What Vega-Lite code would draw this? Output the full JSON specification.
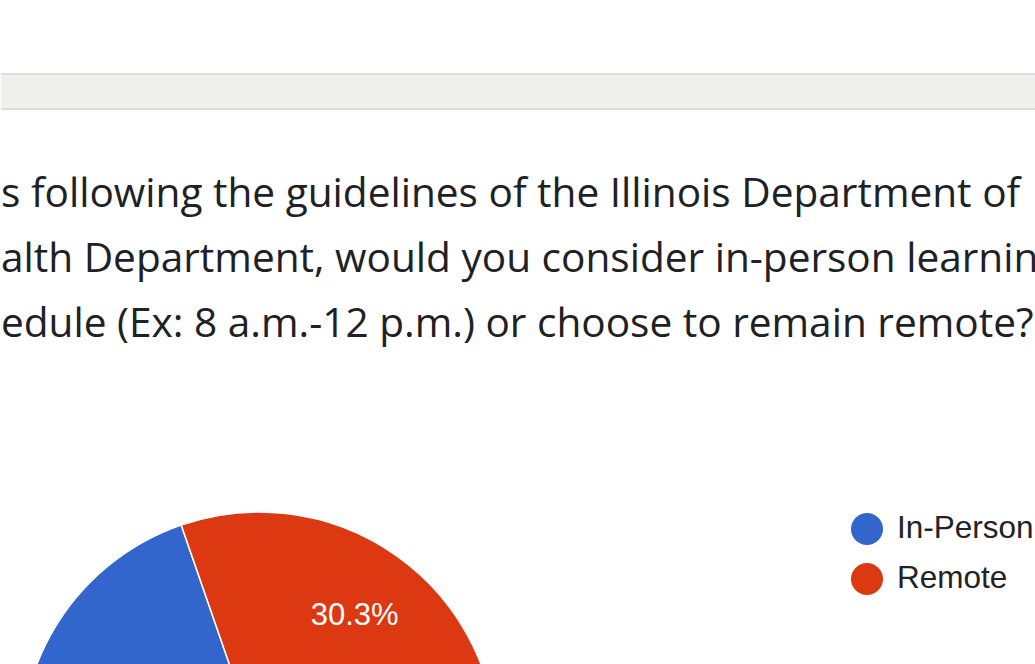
{
  "$schema": "https://vega.github.io/schema/vega-lite/v6.json",
  "background": "white",
  "padding": {"left": 0, "top": 73, "right": 0, "bottom": 0},
  "spacing": 65,
  "config": {"view": {"stroke": null}},
  "vconcat": [
    {
      "width": 1035,
      "height": 35,
      "view": {"fill": "#eff0ea", "stroke": null},
      "data": {"values": [{}]},
      "layer": [
        {
          "mark": {"type": "rule", "color": "#dadce0", "strokeWidth": 2},
          "encoding": {"y": {"datum": 0, "type": "quantitative", "scale": {"domain": [0, 1], "nice": false}, "axis": null}}
        },
        {
          "mark": {"type": "rule", "color": "#dadce0", "strokeWidth": 2},
          "encoding": {"y": {"datum": 1, "type": "quantitative", "axis": null}}
        }
      ]
    },
    {
      "width": 516,
      "height": 682,
      "title": {
        "text": [
          "s following the guidelines of the Illinois Department of",
          "alth Department, would you consider in-person learnin",
          "edule (Ex: 8 a.m.-12 p.m.) or choose to remain remote?"
        ],
        "anchor": "start",
        "frame": "group",
        "font": "Open Sans",
        "fontSize": 40.6,
        "fontWeight": "normal",
        "color": "#202124",
        "lineHeight": 65,
        "offset": 63,
        "limit": 3000
      },
      "data": {
        "values": [
          {"response": "In-Person", "share": 0.697},
          {"response": "Remote", "share": 0.303}
        ]
      },
      "encoding": {
        "theta": {"field": "share", "type": "quantitative", "stack": true, "scale": {"range": [1.5708, 7.854]}},
        "order": {"field": "response", "type": "nominal", "sort": "ascending"}
      },
      "layer": [
        {
          "mark": {"type": "arc", "outerRadius": 238, "stroke": "#ffffff", "strokeWidth": 1.5},
          "encoding": {
            "color": {
              "field": "response",
              "type": "nominal",
              "scale": {"domain": ["In-Person", "Remote"], "range": ["#3366cc", "#dc3912"]},
              "legend": {
                "orient": "none",
                "legendX": 850,
                "legendY": 439,
                "title": null,
                "padding": 0,
                "symbolType": "circle",
                "symbolSize": 1024,
                "symbolStrokeWidth": 0,
                "symbolOpacity": 1,
                "labelFont": "Liberation Sans",
                "labelFontSize": 31.5,
                "labelColor": "#222222",
                "labelOffset": 14,
                "rowPadding": 18,
                "labelLimit": 400
              }
            }
          }
        },
        {
          "mark": {"type": "text", "radius": 165, "font": "Liberation Sans", "fontSize": 31, "color": "#ffffff"},
          "encoding": {
            "text": {"field": "share", "type": "quantitative", "format": ".1%"}
          }
        }
      ]
    }
  ]
}
